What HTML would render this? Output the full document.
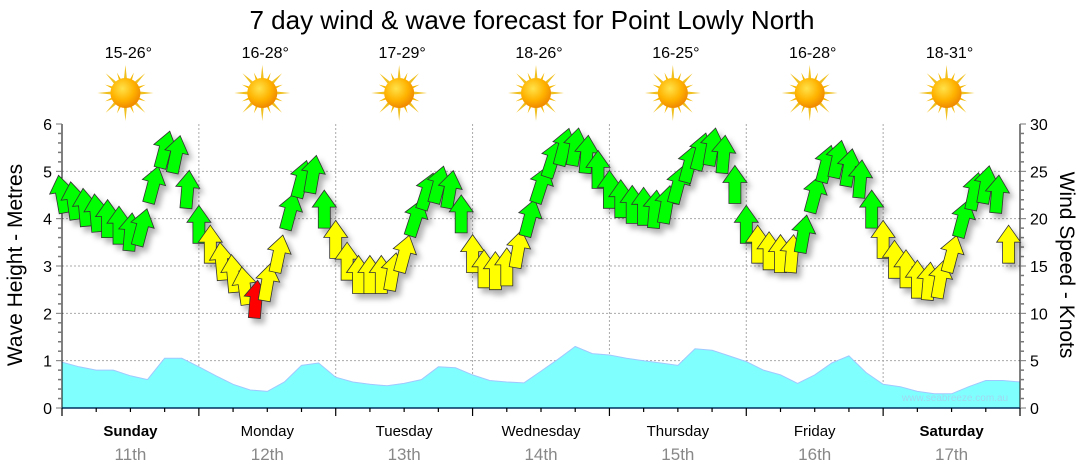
<!DOCTYPE html>
<html><head><meta charset="utf-8">
<style>
html,body{margin:0;padding:0;background:#fff;width:1080px;height:475px;overflow:hidden}
svg{display:block;font-family:"Liberation Sans","DejaVu Sans",sans-serif}
</style></head>
<body>
<svg id="chart" width="1080" height="475" viewBox="0 0 1080 475">
<defs>
<filter id="sh" x="-50%" y="-50%" width="200%" height="200%"><feDropShadow dx="4" dy="5" stdDeviation="3" flood-color="#000" flood-opacity="0.3"/></filter>
<radialGradient id="sunG" cx="40%" cy="35%" r="65%"><stop offset="0" stop-color="#ffe24a"/><stop offset="0.6" stop-color="#ffb300"/><stop offset="1" stop-color="#f08a00"/></radialGradient>
</defs>
<text x="532" y="29" font-size="26" text-anchor="middle" fill="#000">7 day wind &amp; wave forecast for Point Lowly North</text>
<g id="grid"></g>
<g id="wave"></g>
<g id="axes"></g>
<g id="arrows" filter="url(#sh)"></g>
<g id="topgrp"></g>
<text x="955" y="401" font-size="10" fill="#9fd8f0" text-anchor="middle">www.seabreeze.com.au</text>
<text transform="translate(22,265) rotate(-90)" font-size="21" text-anchor="middle">Wave Height - Metres</text>
<text transform="translate(1060,265) rotate(90)" font-size="21" text-anchor="middle">Wind Speed - Knots</text>
</svg>
<script>
const days=["Sunday","Monday","Tuesday","Wednesday","Thursday","Friday","Saturday"];
const dates=["11th","12th","13th","14th","15th","16th","17th"];
const boldDays=[true,false,false,false,false,false,true];
const temps=["15-26°","16-28°","17-29°","18-26°","16-25°","16-28°","18-31°"];
const waveTicks=[0,1,2,3,4,5,6];
const windTicks=[0,5,10,15,20,25,30];
// wind speed in knots, every 2 hours
const windKnots=[22.5,21.8,21.1,20.5,19.9,19.2,18.5,19,23.5,27.2,26.7,23,
19.3,17.2,15.4,14.1,12.8,11.4,13.2,16.2,20.7,24.1,24.6,20.9,
17.7,15.4,14,14,14,14.3,16.2,20,22.8,23.5,23,20.4,
16.2,14.6,14.4,14.8,16.7,20,23.5,26.2,27.5,27.5,26.7,25.1,
23,22,21.4,21.2,20.9,21.4,23.5,25.7,27,27.5,26.7,23.5,
19.3,17.2,16.5,16.2,16.2,18.3,22.5,25.7,26.2,25.3,24.1,20.9,
17.7,15.6,14.6,13.5,13.3,13.5,16.2,19.9,22.8,23.5,22.5,17.2];
// wind arrow tilt (degrees, clockwise)
const windDir=[-10,-8,-5,-5,0,0,5,15,15,15,12,5,
0,0,-5,-5,-8,5,10,12,15,15,10,0,
0,0,0,0,0,10,15,18,18,15,10,0,
0,0,0,0,10,15,18,18,15,10,5,0,
0,0,0,0,5,10,15,15,15,10,5,0,
0,0,0,0,5,10,15,15,12,10,5,0,
0,0,0,0,5,10,15,15,12,10,5,0];
// wave height metres, every 3 hours
const waveM=[0.97,0.87,0.8,0.8,0.68,0.6,1.05,1.05,0.87,0.68,0.5,0.38,0.35,0.55,0.9,0.95,
0.65,0.55,0.5,0.47,0.52,0.6,0.87,0.85,0.7,0.58,0.55,0.53,0.78,1.03,1.3,1.15,
1.12,1.05,1,0.95,0.9,1.25,1.22,1.1,0.98,0.8,0.7,0.52,0.7,0.95,1.1,0.75,
0.5,0.45,0.35,0.3,0.3,0.45,0.58,0.58,0.55];

const NS="http://www.w3.org/2000/svg";
const X0=62,X1=1020,Y0=408,Y6=124;
const hourW=(X1-X0)/168;
const xH=h=>X0+h*hourW;
const yM=m=>Y0-(Y0-Y6)*m/6;
const yK=k=>Y0-(Y0-Y6)*k/30;
function mk(tag,attrs,parent){const e=document.createElementNS(NS,tag);for(const k in attrs)e.setAttribute(k,attrs[k]);parent.appendChild(e);return e;}
const grid=document.getElementById('grid'),axes=document.getElementById('axes'),wave=document.getElementById('wave'),arr=document.getElementById('arrows'),topG=document.getElementById('topgrp');

waveTicks.forEach(t=>{if(t>0&&t<6){const l=mk('line',{x1:X0,x2:X1,y1:yM(t),y2:yM(t),stroke:'#aaa','stroke-dasharray':'2,2'},grid);

}});
for(let d=1;d<7;d++){const l=mk('line',{x1:xH(d*24),x2:xH(d*24),y1:Y6,y2:Y0,stroke:'#aaa','stroke-dasharray':'2,2'},grid);

}

let p='M'+X0+','+Y0;
waveM.forEach((m,i)=>{const h=Math.min(i*3,168);p+=' L'+xH(h).toFixed(1)+','+yM(m).toFixed(1);});
p+=' L'+X1+','+Y0+' Z';
const wa=mk('path',{d:p,fill:'#80ffff',stroke:'#a0c8ff','stroke-width':1},wave);



mk('line',{x1:X0,x2:X0,y1:Y6,y2:Y0+6,stroke:'#000'},axes);
mk('line',{x1:X1,x2:X1,y1:Y6,y2:Y0+6,stroke:'#000'},axes);
mk('line',{x1:X0,x2:X1,y1:Y0,y2:Y0,stroke:'#003060','stroke-width':1.5},axes);
for(let v=0;v<=30;v++){const y=Y0-(Y0-Y6)*v/30;
 mk('line',{x1:X0-(v%5?4:6),x2:X0,y1:y,y2:y,stroke:'#777','stroke-width':v%5?1.5:1},axes);
 mk('line',{x1:X1,x2:X1+(v%5?4:6),y1:y,y2:y,stroke:'#777','stroke-width':v%5?1.5:1},axes);}
waveTicks.forEach(t=>{const e=mk('text',{x:X0-10,y:yM(t)+6,'font-size':16,'text-anchor':'end'},axes);e.textContent=t;

});
windTicks.forEach(t=>{const e=mk('text',{x:X1+10,y:yK(t)+6,'font-size':16,'text-anchor':'start'},axes);e.textContent=t;

});
for(let h=0;h<=168;h+=6){mk('line',{x1:xH(h),x2:xH(h),y1:Y0,y2:Y0+(h%24?4:8),stroke:'#000','stroke-width':1.2},axes);}
days.forEach((d,i)=>{const cx=xH(i*24+12);
 const t=mk('text',{x:cx,y:436,'font-size':15,'text-anchor':'middle','font-weight':boldDays[i]?'bold':'normal'},axes);t.textContent=d;
 
 
 const t2=mk('text',{x:cx,y:460,'font-size':17,'text-anchor':'middle',fill:'#888'},axes);t2.textContent=dates[i];
 
 
 const tt=mk('text',{x:cx-2,y:58,'font-size':16,'text-anchor':'middle'},topG);tt.textContent=temps[i];
 
 
 const g=mk('g',{transform:'translate('+(cx-5)+',93)'},topG);
 
 
 for(let r=0;r<16;r++){const a=r*22.5,L=r%2?22:28;
  mk('polygon',{points:'-3,0 3,0 0,'+(-L),fill:r%2?'#f5b800':'#f0c020',transform:'rotate('+a+')'},g);}
 mk('circle',{r:15,fill:'url(#sunG)'},g);
});

windKnots.forEach((k,i)=>{const x=xH(i*2),y=yK(k);
 const col=k<12?'#ff0000':(k<18?'#ffff00':'#00ff00');
 const a=mk('path',{d:'M0,-20 L12,-3 L6,-3 L6,18 L-6,18 L-6,-3 L-12,-3 Z',fill:col,stroke:'#333','stroke-width':0.8,transform:'translate('+x.toFixed(1)+','+y.toFixed(1)+') rotate('+windDir[i]+')'},arr);
 
 
});
</script>
</body></html>
